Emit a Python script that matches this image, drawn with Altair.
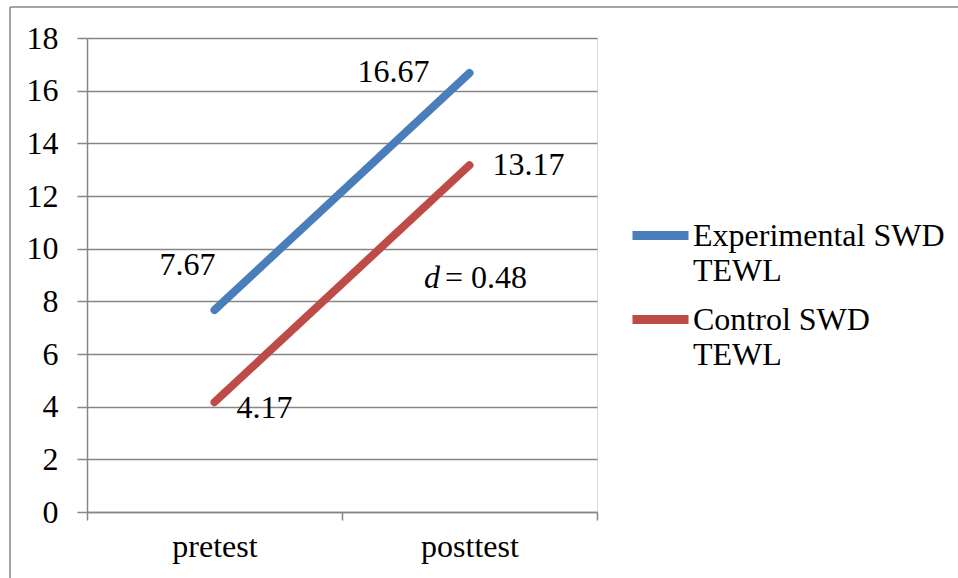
import altair as alt
import pandas as pd

# Chart values
phases = ["pretest", "posttest"]
series_names = ["Experimental SWD TEWL", "Control SWD TEWL"]
experimental_values = [7.67, 16.67]
control_values = [4.17, 13.17]
series_colors = ["#4a7ebb", "#be4b48"]
y_ticks = [0, 2, 4, 6, 8, 10, 12, 14, 16, 18]
effect_symbol = "d"
effect_value = "= 0.48"

rows = []
for name, vals in zip(series_names, [experimental_values, control_values]):
    for phase, v in zip(phases, vals):
        rows.append({"phase": phase, "series": name, "value": v, "label": f"{v:.2f}"})
df = pd.DataFrame(rows)

FONT = "Liberation Serif"
GRID = "#868686"
FS = 32
W, H = 510, 474

x_enc = alt.X(
    "phase:N",
    sort=phases,
    scale=alt.Scale(type="band", paddingInner=0, paddingOuter=0),
    axis=alt.Axis(
        title=None, labelAngle=0, tickBand="extent", grid=False,
        domain=True, domainColor=GRID, domainWidth=1.5,
        ticks=True, tickSize=8, tickColor=GRID, tickWidth=1.5,
        labelFont=FONT, labelFontSize=FS, labelColor="black", labelPadding=11,
    ),
)
y_enc = alt.Y(
    "value:Q",
    scale=alt.Scale(domain=[0, 18]),
    axis=alt.Axis(
        title=None, values=y_ticks, grid=True, gridColor=GRID, gridWidth=1.5,
        domainColor=GRID, domainWidth=1.5, tickColor=GRID, tickSize=10, tickWidth=1.5,
        labelFont=FONT, labelFontSize=FS, labelColor="black", labelPadding=19,
    ),
)

base = alt.Chart(df)

lines = base.mark_line(strokeWidth=8, strokeCap="round").encode(
    x=x_enc,
    y=y_enc,
    color=alt.Color(
        "series:N",
        sort=series_names,
        scale=alt.Scale(domain=series_names, range=series_colors),
        legend=alt.Legend(
            title=None, orient="none", legendX=541, legendY=165, padding=0,
            symbolType="stroke", symbolStrokeWidth=9, symbolSize=3136,
            labelFont=FONT, labelFontSize=FS, labelColor="black", labelLimit=500,
            labelOffset=0, labelBaseline="middle", rowPadding=-14,
            labelExpr="split(replace(datum.label, ' TEWL', '|TEWL'), '|')",
        ),
    ),
)

# Value labels beside each end point (pixel nudges per point)
label_nudges = [
    ("Experimental SWD TEWL", "pretest", -27, -45),
    ("Control SWD TEWL", "pretest", 50, 6),
    ("Experimental SWD TEWL", "posttest", -76, -1),
    ("Control SWD TEWL", "posttest", 59, 0),
]
label_layers = []
for s, p, dx, dy in label_nudges:
    label_layers.append(
        base.transform_filter(
            (alt.datum.series == s) & (alt.datum.phase == p)
        ).mark_text(font=FONT, fontSize=FS, color="black", dx=dx, dy=dy).encode(
            x=x_enc, y=y_enc, text="label:N"
        )
    )

# Effect size annotation
effect_d = alt.Chart(pd.DataFrame({"t": [effect_symbol]})).mark_text(
    font=FONT, fontSize=FS, fontStyle="italic", color="black", align="left"
).encode(x=alt.value(337), y=alt.value(240), text="t:N")
effect_v = alt.Chart(pd.DataFrame({"t": [effect_value]})).mark_text(
    font=FONT, fontSize=FS, color="black", align="left"
).encode(x=alt.value(358), y=alt.value(240), text="t:N")

# Outer frame around the chart
frame_df = pd.DataFrame({"k": [0]})
frame_left = alt.Chart(frame_df).mark_rule(color=GRID, strokeWidth=1.5).encode(
    x=alt.value(-77), y=alt.value(-31), y2=alt.value(600)
)
frame_top = alt.Chart(frame_df).mark_rule(color=GRID, strokeWidth=1.5).encode(
    x=alt.value(-77), x2=alt.value(1000), y=alt.value(-31)
)

chart = alt.layer(
    lines, *label_layers, effect_d, effect_v, frame_left, frame_top
).properties(
    width=W,
    height=H,
    padding={"left": 87, "top": 38, "right": 361, "bottom": 66},
    autosize=alt.AutoSizeParams(type="none"),
).configure_view(
    strokeWidth=0
).configure(
    style={"guide-label": {"lineHeight": 35}}
)

chart.save("out.html", embed_options={"renderer": "svg", "actions": False})
